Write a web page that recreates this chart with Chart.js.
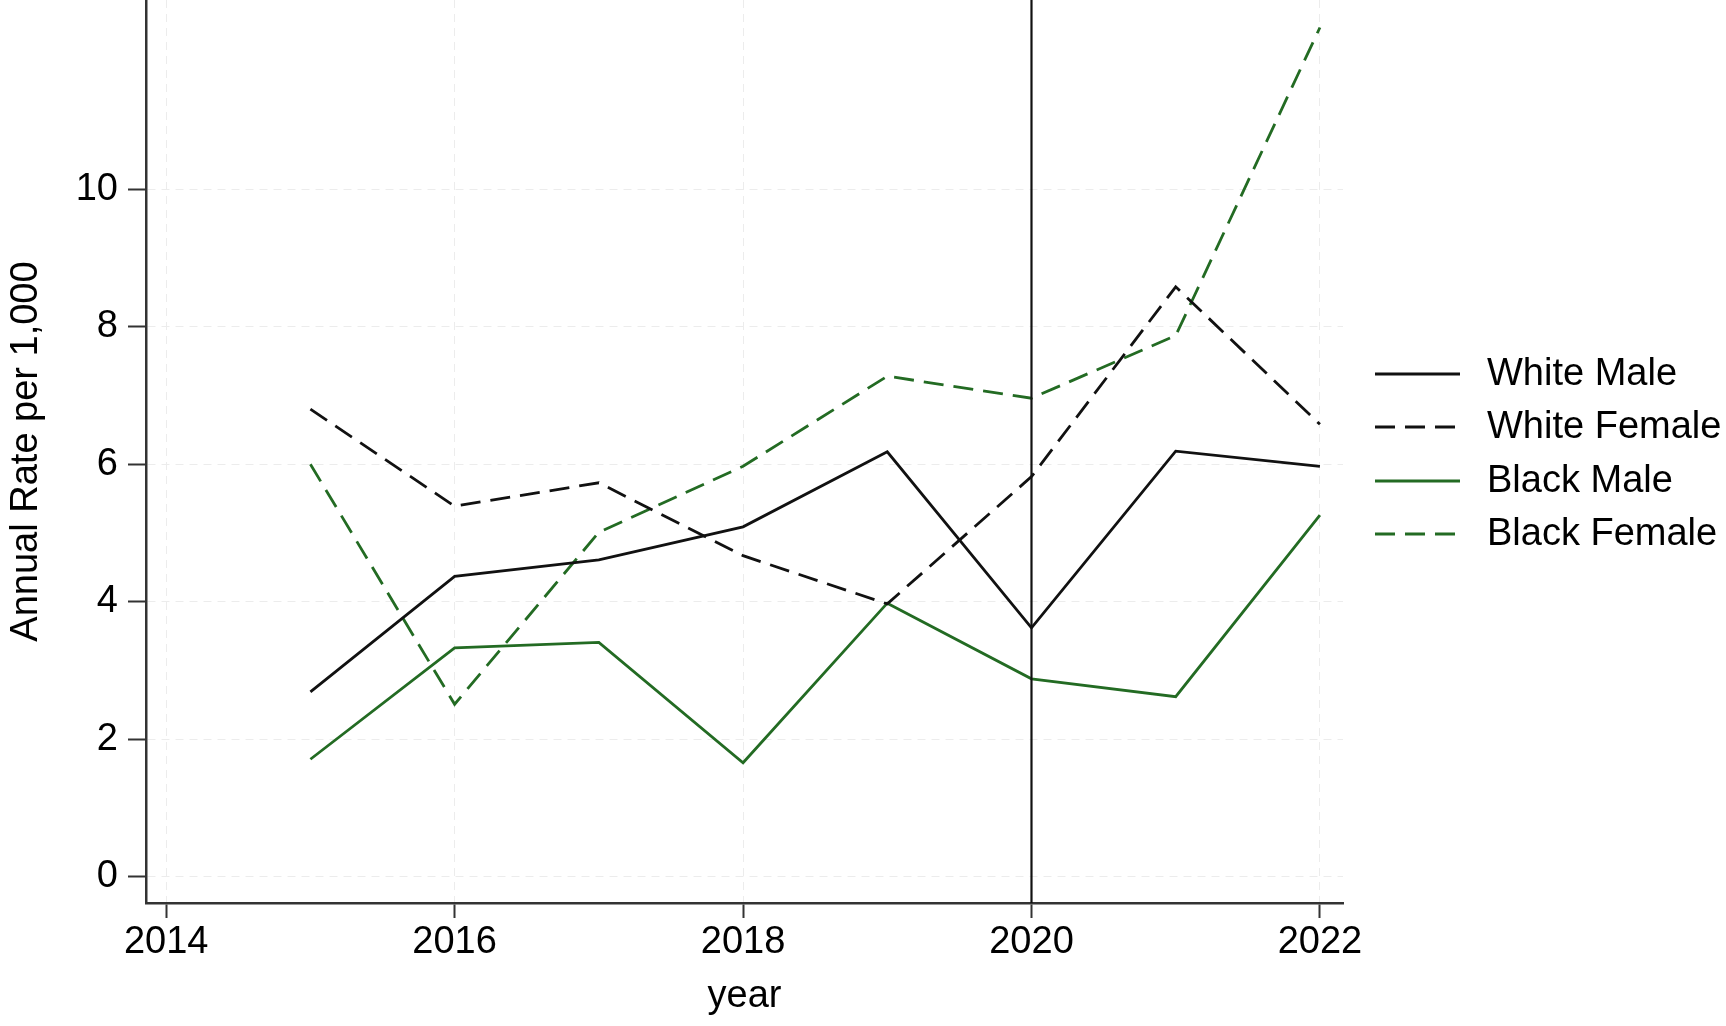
<!DOCTYPE html>
<html>
<head>
<meta charset="utf-8">
<script src="https://cdn.jsdelivr.net/npm/chart.js@4.4.1/dist/chart.umd.min.js"></script>
<style>
  html, body { margin: 0; padding: 0; background: #ffffff; }
  #wrap { width: 1726px; height: 1026px; position: relative; }
</style>
</head>
<body>
<div id="wrap"><canvas id="c" width="1726" height="1026"></canvas></div>
<script>
// ---- data ----
const years = [2015, 2016, 2017, 2018, 2019, 2020, 2021, 2022];
const whiteMale   = [2.69, 4.37, 4.61, 5.09, 6.18, 3.62, 6.19, 5.97];
const whiteFemale = [6.80, 5.39, 5.73, 4.67, 3.97, 5.82, 8.58, 6.58];
const blackMale   = [1.71, 3.33, 3.41, 1.66, 3.98, 2.88, 2.62, 5.26];
const blackFemale = [6.00, 2.51, 5.01, 5.97, 7.28, 6.96, 7.87, 12.35];
const seriesNames = ['White Male', 'White Female', 'Black Male', 'Black Female'];
const xTicks = [2014, 2016, 2018, 2020, 2022];
const yTicks = [0, 2, 4, 6, 8, 10];
const markerYear = 2020;
const xTitle = 'year';
const yTitle = 'Annual Rate per 1,000';

const GREEN = '#236b23';
const BLACK = '#111111';
const DASH = [20, 10];
const FONT = "'Liberation Sans', Arial, Helvetica, sans-serif";

function pts(vals) { return years.map((y, i) => ({ x: y, y: vals[i] })); }

const datasets = [
  { label: seriesNames[0], data: pts(whiteMale),   borderColor: BLACK, borderDash: [] },
  { label: seriesNames[1], data: pts(whiteFemale), borderColor: BLACK, borderDash: DASH },
  { label: seriesNames[2], data: pts(blackMale),   borderColor: GREEN, borderDash: [] },
  { label: seriesNames[3], data: pts(blackFemale), borderColor: GREEN, borderDash: DASH }
].map(d => Object.assign(d, {
  borderWidth: 2.8, pointRadius: 0, tension: 0, fill: false, backgroundColor: d.borderColor
}));

// vertical reference line at markerYear
const vlinePlugin = {
  id: 'vline',
  afterDatasetsDraw(chart) {
    const { ctx, chartArea, scales } = chart;
    const x = scales.x.getPixelForValue(markerYear);
    ctx.save();
    ctx.strokeStyle = BLACK;
    ctx.lineWidth = 2.2;
    ctx.beginPath();
    ctx.moveTo(x, chartArea.top);
    ctx.lineTo(x, chartArea.bottom);
    ctx.stroke();
    ctx.restore();
  }
};

// legend drawn to the right, using dataset styles
const sideLegend = {
  id: 'sideLegend',
  afterDraw(chart) {
    const { ctx } = chart;
    const x0 = 1375, x1 = 1460, tx = 1487;
    const ys = [374, 427, 481, 534];
    ctx.save();
    ctx.font = "38px " + FONT;
    ctx.textBaseline = 'middle';
    ctx.textAlign = 'left';
    chart.data.datasets.forEach((ds, i) => {
      ctx.strokeStyle = ds.borderColor;
      ctx.lineWidth = 2.8;
      ctx.setLineDash(ds.borderDash || []);
      ctx.beginPath();
      ctx.moveTo(x0, ys[i]);
      ctx.lineTo(x1, ys[i]);
      ctx.stroke();
      ctx.setLineDash([]);
      ctx.fillStyle = '#000';
      ctx.fillText(ds.label, tx, ys[i] + 1);
    });
    ctx.restore();
  }
};

new Chart(document.getElementById('c'), {
  type: 'line',
  data: { datasets },
  plugins: [vlinePlugin, sideLegend],
  options: {
    responsive: false,
    animation: false,
    devicePixelRatio: 1,
    layout: { padding: { left: 0, top: 0, right: 383, bottom: 0 } },
    plugins: { legend: { display: false }, tooltip: { enabled: false } },
    scales: {
      x: {
        type: 'linear',
        min: 2013.86,
        max: 2022.16,
        afterBuildTicks: s => { s.ticks = xTicks.map(v => ({ value: v })); },
        afterFit: s => { s.height = 123; s.paddingLeft = 0; s.paddingRight = 0; },
        ticks: { color: '#000', font: { family: FONT, size: 38 }, padding: 2, maxRotation: 0, autoSkip: false,
                 callback: v => String(v) },
        grid: { color: '#ececec', lineWidth: 1, tickLength: 15, tickColor: '#333', tickWidth: 2, tickBorderDash: [] },
        border: { color: '#333', width: 2.5, dash: [8, 6] },
        title: { display: true, text: xTitle, color: '#000', font: { family: FONT, size: 38 }, padding: { top: 0, bottom: 7 } }
      },
      y: {
        type: 'linear',
        min: -0.38,
        max: 12.75,
        afterBuildTicks: s => { s.ticks = yTicks.map(v => ({ value: v })); },
        afterFit: s => { s.width = 146; s.paddingTop = 0; s.paddingBottom = 0; },
        ticks: { color: '#000', font: { family: FONT, size: 38 }, padding: 10 },
        grid: { color: '#ececec', lineWidth: 1, tickLength: 18, tickColor: '#333', tickWidth: 2, tickBorderDash: [] },
        border: { color: '#333', width: 2.5, dash: [8, 6] },
        title: { display: true, text: yTitle, color: '#000', font: { family: FONT, size: 38 }, padding: { top: 4, bottom: 0 } }
      }
    }
  }
});
</script>
</body>
</html>
